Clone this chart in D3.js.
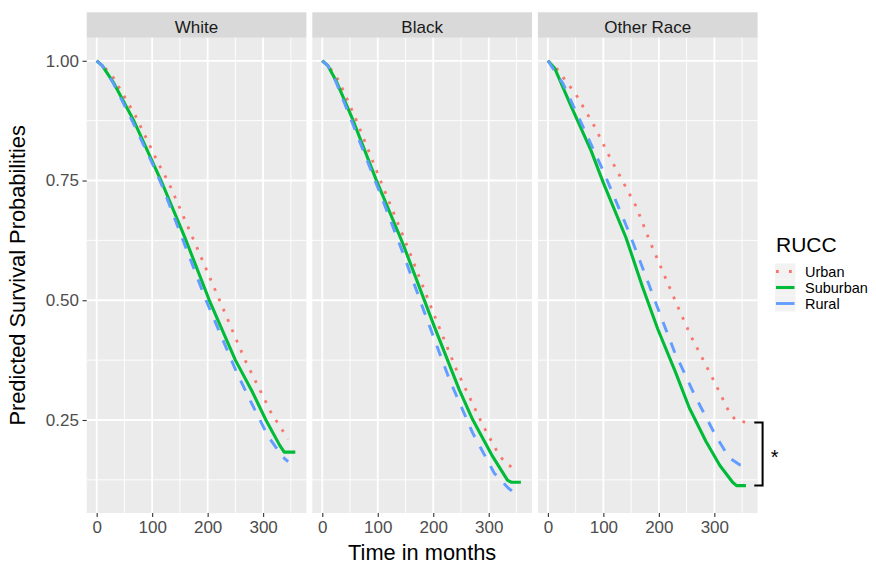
<!DOCTYPE html>
<html><head><meta charset="utf-8">
<script src="https://cdn.jsdelivr.net/npm/d3@7/dist/d3.min.js"></script>
<style>
body{margin:0;background:#fff}
svg{display:block}
text{font-family:"Liberation Sans",Arial,Helvetica,sans-serif}
</style>
</head><body>
<svg id="chart" width="876" height="563"></svg>
<script>
// ---- data ----
const panelNames = ["White", "Black", "Other Race"];
const seriesNames = ["Urban", "Suburban", "Rural"];
const seriesColors = ["#F8766D", "#00BA38", "#619CFF"];
const xTickValues = [0, 100, 200, 300];
const yTickValues = [0.25, 0.50, 0.75, 1.00];
const yTickLabels = ["0.25", "0.50", "0.75", "1.00"];

// [month, predicted survival]
const whiteUrban = [[0,1],[15,0.985],[30,0.965],[70,0.885],[111,0.786],[130,0.745],[174,0.628],[216,0.515],[267,0.376],[315,0.264],[345,0.21]];
const whiteSuburban = [[0,1],[10,0.99],[30,0.955],[66,0.877],[116,0.75],[160,0.628],[203,0.5],[250,0.375],[280,0.31],[305,0.25],[330,0.197],[338,0.183],[358,0.183]];
const whiteRural = [[0,1],[10,0.99],[30,0.953],[66,0.87],[105,0.774],[120,0.733],[160,0.612],[197,0.5],[252,0.35],[280,0.283],[309,0.216],[336,0.172],[345,0.163]];

const blackUrban = [[0,1],[15,0.983],[30,0.958],[60,0.88],[109,0.738],[150,0.622],[199,0.477],[241,0.357],[289,0.24],[319,0.176],[334,0.156],[353,0.147]];
const blackSuburban = [[0,1],[10,0.99],[25,0.958],[55,0.877],[97,0.752],[145,0.619],[202,0.445],[247,0.313],[271,0.251],[307,0.174],[334,0.124],[341,0.12],[358,0.12]];
const blackRural = [[0,1],[10,0.99],[25,0.955],[55,0.868],[106,0.718],[145,0.6],[184,0.475],[229,0.335],[271,0.223],[310,0.139],[335,0.108],[343,0.101]];

const otherUrban = [[0,1],[15,0.985],[51,0.929],[84,0.863],[111,0.80],[159,0.696],[183,0.625],[234,0.487],[258,0.425],[300,0.33],[327,0.266],[339,0.249],[357,0.245]];
const otherSuburban = [[0,1],[12,0.985],[40,0.91],[78,0.812],[100,0.745],[141,0.63],[170,0.53],[198,0.44],[230,0.35],[255,0.275],[285,0.205],[310,0.155],[333,0.12],[340,0.113],[357,0.113]];
const otherRural = [[0,1],[27,0.953],[63,0.863],[99,0.772],[147,0.64],[165,0.585],[213,0.438],[228,0.393],[264,0.303],[303,0.216],[327,0.171],[345,0.157],[356,0.153]];

const panelData = [
  [whiteUrban, whiteSuburban, whiteRural],
  [blackUrban, blackSuburban, blackRural],
  [otherUrban, otherSuburban, otherRural]
];

// ---- layout ----
const svg = d3.select("#chart");
const panelLeft0 = 86.7, panelW = 219.7, panelGap = 5.9;
const stripTop = 12.3, stripH = 25.5;
const plotTop = stripTop + stripH, plotBottom = 513;

const x = d3.scaleLinear().domain([-18, 378]).range([0, panelW]);
const y = d3.scaleLinear().domain([0.0558, 1.048]).range([plotBottom, plotTop]);

const dashes = ["2.8,8.4", null, "11,11"];
const widths = [2.8, 3.1, 2.9];

const line = d3.line().x(d => x(d[0])).y(d => y(d[1]));

panelNames.forEach((name, i) => {
  const left = panelLeft0 + i * (panelW + panelGap);
  const g = svg.append("g").attr("transform", `translate(${left},0)`);

  // strip
  g.append("rect").attr("x", 0).attr("y", stripTop).attr("width", panelW).attr("height", stripH).attr("fill", "#D9D9D9");
  g.append("text").attr("x", panelW / 2).attr("y", stripTop + 20.3).attr("text-anchor", "middle")
    .attr("font-size", 17).attr("fill", "#1A1A1A").text(name);

  // panel background
  g.append("rect").attr("x", 0).attr("y", plotTop).attr("width", panelW).attr("height", plotBottom - plotTop).attr("fill", "#EBEBEB");

  // grid
  const xMinor = [50, 150, 250, 350], yMinor = [0.125, 0.375, 0.625, 0.875];
  g.selectAll(".xm").data(xMinor).enter().append("line")
    .attr("x1", d => x(d)).attr("x2", d => x(d)).attr("y1", plotTop).attr("y2", plotBottom)
    .attr("stroke", "#fff").attr("stroke-width", 0.9);
  g.selectAll(".ym").data(yMinor).enter().append("line")
    .attr("x1", 0).attr("x2", panelW).attr("y1", d => y(d)).attr("y2", d => y(d))
    .attr("stroke", "#fff").attr("stroke-width", 0.9);
  g.selectAll(".xM").data(xTickValues).enter().append("line")
    .attr("x1", d => x(d)).attr("x2", d => x(d)).attr("y1", plotTop).attr("y2", plotBottom)
    .attr("stroke", "#fff").attr("stroke-width", 1.8);
  g.selectAll(".yM").data(yTickValues).enter().append("line")
    .attr("x1", 0).attr("x2", panelW).attr("y1", d => y(d)).attr("y2", d => y(d))
    .attr("stroke", "#fff").attr("stroke-width", 1.8);

  // clip
  const clipId = "clip" + i;
  g.append("clipPath").attr("id", clipId).append("rect")
    .attr("x", 0).attr("y", plotTop).attr("width", panelW).attr("height", plotBottom - plotTop);

  const lg = g.append("g").attr("clip-path", `url(#${clipId})`);
  panelData[i].forEach((ser, s) => {
    const p = lg.append("path").datum(ser).attr("d", line)
      .attr("fill", "none").attr("stroke", seriesColors[s]).attr("stroke-width", widths[s])
      .attr("stroke-linejoin", "round");
    if (dashes[s]) p.attr("stroke-dasharray", dashes[s]);
  });

  // x axis
  const xa = g.append("g").attr("transform", `translate(0,${plotBottom})`)
    .call(d3.axisBottom(x).tickValues(xTickValues).tickSize(4).tickPadding(4.2).tickFormat(d3.format("d")));
  xa.select(".domain").remove();
  xa.selectAll("line").attr("stroke", "#333333").attr("stroke-width", 1.1);
  xa.selectAll("text").attr("font-size", 17).attr("fill", "#4D4D4D").attr("font-family", null);

  if (i === 0) {
    const ya = g.append("g")
      .call(d3.axisLeft(y).tickValues(yTickValues).tickSize(4.2).tickPadding(3.6).tickFormat((d, k) => yTickLabels[k]));
    ya.select(".domain").remove();
    ya.selectAll("line").attr("stroke", "#333333").attr("stroke-width", 1.1);
    ya.selectAll("text").attr("font-size", 17).attr("fill", "#4D4D4D").attr("font-family", null);
  }

  if (i === 2) {
    // significance bracket between Urban and Suburban end values
    const yTop = y(otherUrban[otherUrban.length - 1][1]);
    const yBot = y(otherSuburban[otherSuburban.length - 1][1]);
    const bx1 = x(372), bx2 = x(387);
    g.append("path")
      .attr("d", `M${bx1},${yTop}H${bx2}V${yBot}H${bx1}`)
      .attr("fill", "none").attr("stroke", "#000").attr("stroke-width", 2);
    g.append("text").attr("x", bx2 + 12).attr("y", (yTop + yBot) / 2 + 10.5)
      .attr("text-anchor", "middle").attr("font-size", 20).attr("fill", "#000").text("*");
  }
});

// axis titles
const plotCenterX = (panelLeft0 + panelLeft0 + 3 * panelW + 2 * panelGap) / 2;
svg.append("text").attr("x", plotCenterX).attr("y", 559.5).attr("text-anchor", "middle")
  .attr("font-size", 21.8).attr("fill", "#000").text("Time in months");
svg.append("text").attr("transform", `translate(24.5,${(plotTop + plotBottom) / 2}) rotate(-90)`)
  .attr("text-anchor", "middle").attr("font-size", 21.8).attr("fill", "#000").text("Predicted Survival Probabilities");

// legend
const lgd = svg.append("g").attr("transform", "translate(776,0)");
lgd.append("text").attr("x", 0).attr("y", 251.5).attr("font-size", 21).attr("fill", "#000").text("RUCC");
const keyY = [271.5, 287.5, 303.5];
seriesNames.forEach((nm, s) => {
  lgd.append("rect").attr("x", -1).attr("y", keyY[s] - 8).attr("width", 20.5).attr("height", 16).attr("fill", "#F2F2F2");
  const kl = lgd.append("line").attr("x1", 0).attr("x2", 18.5).attr("y1", keyY[s]).attr("y2", keyY[s])
    .attr("stroke", seriesColors[s]).attr("stroke-width", widths[s]);
  if (dashes[s]) kl.attr("stroke-dasharray", s === 0 ? "2.8,10.2" : "18.5,0");
  lgd.append("text").attr("x", 29).attr("y", keyY[s]).attr("dy", "0.35em").attr("font-size", 14.5)
    .attr("fill", "#000").text(nm);
});
</script>
</body></html>
